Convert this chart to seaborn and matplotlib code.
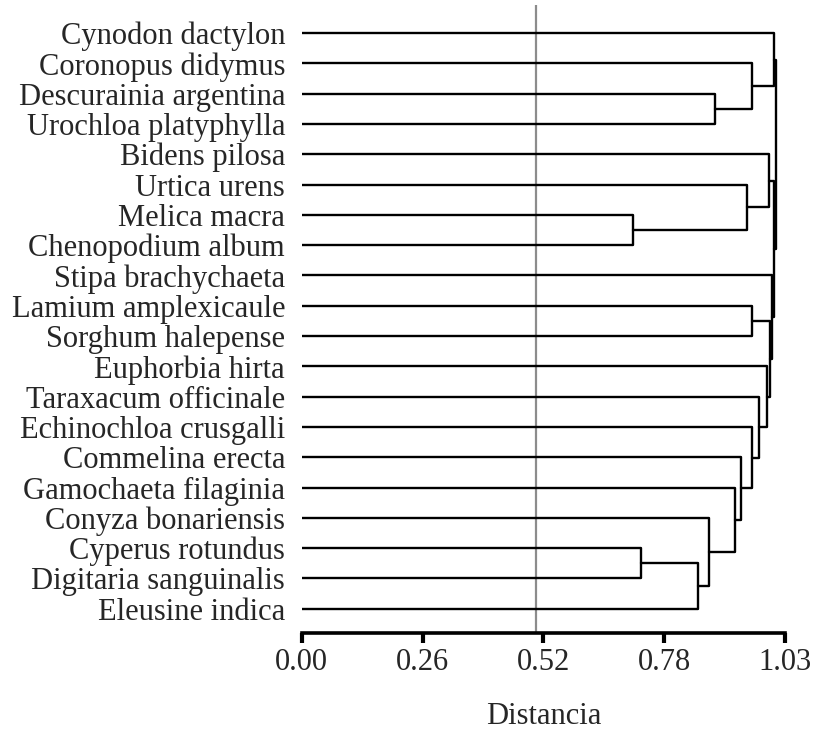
import numpy as np
import pandas as pd
import matplotlib
matplotlib.use("Agg")
import matplotlib.pyplot as plt
import seaborn as sns

# ---- data ----
leaves = [
    "Cynodon dactylon", "Coronopus didymus", "Descurainia argentina",
    "Urochloa platyphylla", "Bidens pilosa", "Urtica urens", "Melica macra",
    "Chenopodium album", "Stipa brachychaeta", "Lamium amplexicaule",
    "Sorghum halepense", "Euphorbia hirta", "Taraxacum officinale",
    "Echinochloa crusgalli", "Commelina erecta", "Gamochaeta filaginia",
    "Conyza bonariensis", "Cyperus rotundus", "Digitaria sanguinalis",
    "Eleusine indica",
]
# merges: indices < 20 are leaves, >= 20 refer to earlier merges (20 + k)
merge_left = [2, 1, 0, 6, 5, 4, 9, 17, 27, 16, 15, 14, 13, 12, 11, 26, 8, 25, 22]
merge_right = [3, 20, 21, 7, 23, 24, 10, 18, 19, 28, 29, 30, 31, 32, 33, 34, 35, 36, 37]
merge_height = [0.881, 0.959, 1.007, 0.706, 0.949, 0.996, 0.959, 0.723, 0.845,
                0.869, 0.924, 0.937, 0.959, 0.975, 0.991, 0.999, 1.003, 1.006, 1.010]
xticks = [0.00, 0.2575, 0.515, 0.7725, 1.03]
xtick_labels = ["0.00", "0.26", "0.52", "0.78", "1.03"]
cutoff = 0.50

# ---- build segments ----
n = len(leaves)
node_x = {i: 0.0 for i in range(n)}
node_y = {i: float(i) for i in range(n)}
rows = []
seg = 0
for k, (a, b, h) in enumerate(zip(merge_left, merge_right, merge_height)):
    for xx, yy in [(node_x[a], node_y[a]), (h, node_y[a]), (h, node_y[b]), (node_x[b], node_y[b])]:
        rows.append({"x": xx, "y": yy, "seg": seg})
    seg += 1
    node_x[n + k] = h
    node_y[n + k] = (node_y[a] + node_y[b]) / 2.0
df = pd.DataFrame(rows)

# ---- plot ----
sns.set_theme(style="white")
plt.rcParams["font.family"] = ["Liberation Serif", "DejaVu Serif"]

fig = plt.figure(figsize=(8.23, 7.33), dpi=100)
ax = fig.add_axes([301.7 / 823, (733 - 633) / 733, (785 - 301.7) / 823, (633 - 5) / 733])

sns.lineplot(data=df, x="x", y="y", units="seg", estimator=None, sort=False,
             color="black", linewidth=1.7, ax=ax, legend=False)
ax.axvline(cutoff, color="#8c8c8c", linewidth=1.6, zorder=0)

ax.set_xlim(0, 1.03)
ax.set_ylim(19.80, -0.924)
ax.set_yticks(range(n))
ax.set_yticklabels(leaves, fontsize=22)
ax.set_xticks(xticks)
ax.set_xticklabels(xtick_labels, fontsize=22)
ax.tick_params(axis="y", length=0, pad=12)
ax.tick_params(axis="x", direction="out", length=7, width=3, color="black", pad=4,
               bottom=True)
for s in ["left", "right", "top"]:
    ax.spines[s].set_visible(False)
ax.spines["bottom"].set_color("black")
ax.spines["bottom"].set_linewidth(2.6)
ax.set_xlabel("Distancia", fontsize=22, labelpad=18)
ax.set_ylabel("")
ax.grid(False)

fig.savefig("out.png", dpi=100)
